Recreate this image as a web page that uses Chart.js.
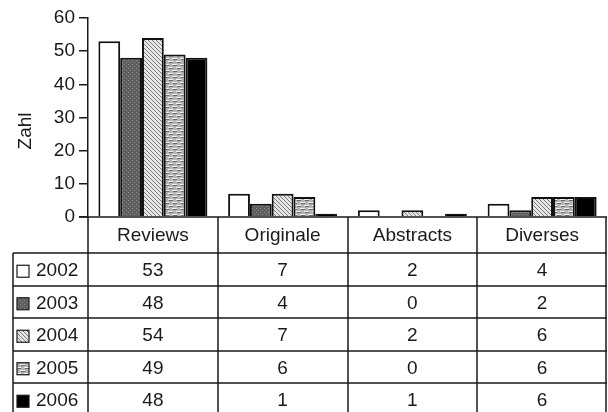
<!DOCTYPE html>
<html>
<head>
<meta charset="utf-8">
<script src="https://cdn.jsdelivr.net/npm/chart.js@4.4.1/dist/chart.umd.min.js"></script>
<style>
  html, body { margin: 0; padding: 0; background: #fff; }
  #wrap { width: 608px; height: 412px; position: relative; }
</style>
</head>
<body>
<div id="wrap"><canvas id="chart"></canvas></div>
<script>
const categories = ['Reviews', 'Originale', 'Abstracts', 'Diverses'];
const years = ['2002', '2003', '2004', '2005', '2006'];
const values2002 = [53, 7, 2, 4];
const values2003 = [48, 4, 0, 2];
const values2004 = [54, 7, 2, 6];
const values2005 = [49, 6, 0, 6];
const values2006 = [48, 1, 1, 6];
const yMin = 0, yMax = 60, yStep = 10;
const yTitle = 'Zahl';

const allValues = [values2002, values2003, values2004, values2005, values2006];
const ink = '#1a1a1a';
const fontFamily = '"Liberation Sans", Arial, sans-serif';
const tickLen = 9;

// fill patterns, one per year
function makePattern(kind) {
  const c = document.createElement('canvas');
  const g = c.getContext('2d');
  if (kind === 'white') { c.width = c.height = 4; g.fillStyle = '#fff'; g.fillRect(0, 0, 4, 4); }
  if (kind === 'dots') {
    c.width = c.height = 4;
    g.fillStyle = '#5e5e5e'; g.fillRect(0, 0, 4, 4);
    g.fillStyle = '#8c8c8c'; g.fillRect(0, 0, 1, 1); g.fillRect(2, 2, 1, 1);
  }
  if (kind === 'diag') {
    c.width = c.height = 4;
    g.fillStyle = '#e6e6e6'; g.fillRect(0, 0, 4, 4);
    g.fillStyle = '#7a7a7a';
    for (let i = 0; i < 4; i++) g.fillRect(i, i, 1, 1);
  }
  if (kind === 'brick') {
    c.width = 8; c.height = 6;
    g.fillStyle = '#b4b4b4'; g.fillRect(0, 0, 8, 6);
    g.fillStyle = '#f2f2f2'; g.fillRect(0, 1, 5, 1); g.fillRect(4, 4, 5, 1); g.fillRect(0, 4, 1, 1);
    g.fillStyle = '#6a6a6a'; g.fillRect(1, 2, 4, 1); g.fillRect(5, 5, 3, 1); g.fillRect(0, 5, 1, 1);
  }
  if (kind === 'black') { c.width = c.height = 4; g.fillStyle = '#000'; g.fillRect(0, 0, 4, 4); }
  return g.createPattern(c, 'repeat');
}
const fills = ['white', 'dots', 'diag', 'brick', 'black'].map(makePattern);

const tablePlugin = {
  id: 'tablePlugin',
  afterDraw(chart) {
    const { ctx, chartArea, scales } = chart;
    const x = scales.x;
    const top = chartArea.bottom;
    const headerBottom = 253;
    const rowH = 32.5;
    const bottom = 412;
    const legendLeft = 13;
    const colW = (chartArea.right - chartArea.left) / categories.length;

    ctx.save();
    ctx.strokeStyle = ink;
    ctx.lineWidth = 1.5;
    ctx.beginPath();
    // baseline of bars / top of table
    ctx.moveTo(chartArea.left - tickLen, top); ctx.lineTo(chartArea.right, top);
    // column lines
    for (let i = 0; i <= categories.length; i++) {
      const px = Math.round(chartArea.left + i * colW) - (i === categories.length ? 1 : 0);
      ctx.moveTo(px, top); ctx.lineTo(px, bottom);
    }
    // row lines
    for (let r = 0; r < years.length; r++) {
      const py = Math.round(headerBottom + r * rowH);
      ctx.moveTo(legendLeft, py); ctx.lineTo(chartArea.right, py);
    }
    ctx.moveTo(legendLeft, headerBottom); ctx.lineTo(legendLeft, bottom);
    ctx.stroke();

    ctx.fillStyle = ink;
    ctx.font = '19px ' + fontFamily;
    ctx.textAlign = 'center';
    ctx.textBaseline = 'middle';
    categories.forEach((cat, i) => {
      ctx.fillText(cat, x.getPixelForValue(i), (top + headerBottom) / 2 + 1);
    });
    years.forEach((yr, r) => {
      const cy = headerBottom + rowH * (r + 0.5) + 2;
      allValues[r].forEach((v, i) => {
        ctx.textAlign = 'center';
        ctx.fillStyle = ink;
        ctx.fillText(String(v), x.getPixelForValue(i), cy);
      });
      // legend swatch
      ctx.fillStyle = fills[r];
      ctx.fillRect(17, cy - 6, 12, 12);
      ctx.lineWidth = 1.2;
      ctx.strokeRect(17, cy - 6, 12, 12);
      ctx.fillStyle = ink;
      ctx.textAlign = 'left';
      ctx.fillText(yr, 36, cy);
    });

    // y axis title
    ctx.save();
    ctx.translate(26, 131);
    ctx.rotate(-Math.PI / 2);
    ctx.textAlign = 'center';
    ctx.fillText(yTitle, 0, 0);
    ctx.restore();
    ctx.restore();
  }
};

new Chart(document.getElementById('chart'), {
  type: 'bar',
  data: {
    labels: categories,
    datasets: years.map((yr, r) => ({
      label: yr,
      data: allValues[r],
      backgroundColor: fills[r],
      borderColor: '#111',
      borderWidth: 2,
      categoryPercentage: 0.84,
      barPercentage: 1.0
    }))
  },
  options: {
    responsive: true,
    maintainAspectRatio: false,
    animation: false,
    layout: { padding: { left: 0, right: 1, top: 18, bottom: 195 } },
    plugins: { legend: { display: false }, tooltip: { enabled: false } },
    scales: {
      x: { display: false },
      y: {
        min: yMin, max: yMax,
        ticks: { stepSize: yStep, color: ink, padding: 4, font: { size: 19, family: fontFamily } },
        grid: { drawOnChartArea: false, tickLength: tickLen, color: ink, lineWidth: 1.5 },
        border: { color: ink, width: 1.5 },
        afterFit(scale) { scale.width = 88; }
      }
    }
  },
  plugins: [tablePlugin]
});
</script>
</body>
</html>
